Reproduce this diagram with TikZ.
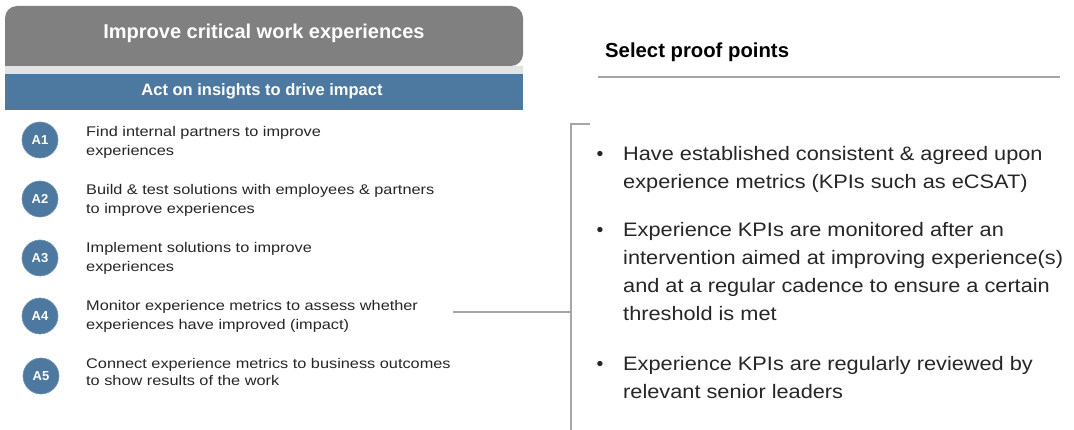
\documentclass[tikz,border=0pt]{standalone}
\usepackage{fontspec}
\setmainfont{Liberation Sans}
\newfontfamily\itemfont[FakeStretch=1.165]{Liberation Sans}
\newfontfamily\pointfont[FakeStretch=1.115]{Liberation Sans}
\definecolor{hdrgray}{HTML}{808080}
\definecolor{stripgray}{HTML}{E3E3E3}
\definecolor{steel}{HTML}{4D79A0}
\definecolor{rulegray}{HTML}{A6A6A6}
\definecolor{bodytext}{HTML}{262626}
\begin{document}
\begin{tikzpicture}[x=1pt,y=-1pt,
  badge/.style={circle,fill=steel,draw=steel!80!white,line width=0.6pt,minimum size=36pt,inner sep=0pt,
    text=white,font=\fontsize{13}{13}\selectfont\bfseries},
  itemtext/.style={anchor=north west,inner sep=0pt,align=left,text=bodytext,
    font=\itemfont\fontsize{14}{19}\selectfont},
  pointtext/.style={anchor=north west,inner sep=0pt,align=left,text=bodytext,
    font=\pointfont\fontsize{19.5}{27.9}\selectfont},
  dot/.style={anchor=base,inner sep=0pt,text=bodytext,font=\fontsize{19.5}{19.5}\selectfont},
  link/.style={draw=rulegray,line width=1.8pt}]
\useasboundingbox[fill=white] (0,0) rectangle (1074,430);

% header blocks
\fill[hdrgray,rounded corners=12pt] (5,66) -- (5,6) -- (523,6) -- (523,66) [sharp corners] -- cycle;
\fill[stripgray] (5,66) rectangle (523,74);
\fill[steel] (5,74) rectangle (523,110);
\node[text=white,font=\fontsize{20}{20}\selectfont\bfseries] (title) at (264,33) {Improve critical work experiences};
\node[text=white,font=\fontsize{16.5}{16.5}\selectfont\bfseries] (sub) at (262,91) {Act on insights to drive impact};

% action items
\node[badge] (a1) at (40,140) {A1};
\node[badge] (a2) at (40,199) {A2};
\node[badge] (a3) at (40,258) {A3};
\node[badge] (a4) at (40,316) {A4};
\node[badge] (a5) at (41,376) {A5};

\node[itemtext] (t1) at (86,122) {\rule{0pt}{14pt}Find internal partners to improve\\experiences};
\node[itemtext] (t2) at (86,180) {\rule{0pt}{14pt}Build \& test solutions with employees \& partners\\to improve experiences};
\node[itemtext] (t3) at (86,238) {\rule{0pt}{14pt}Implement solutions to improve\\experiences};
\node[itemtext] (t4) at (86,296) {\rule{0pt}{14pt}Monitor experience metrics to assess whether\\experiences have improved (impact)};
\node[itemtext,font=\itemfont\fontsize{14}{17.5}\selectfont] (t5) at (86,354) {\rule{0pt}{14pt}Connect experience metrics to business outcomes\\to show results of the work};

% proof points heading
\node[anchor=west,inner sep=0pt,font=\fontsize{20.3}{20.3}\selectfont\bfseries] (sel) at (605,52) {Select proof points};
\coordinate (ruleL) at (598,77);
\coordinate (ruleR) at (1060,77);
\draw[link] (ruleL) -- (ruleR);

% bracket linking A4 to the proof points
\coordinate (a4end) at (453,312);
\coordinate (brk) at (571,312);
\coordinate (brkTop) at (571,124);
\coordinate (brkStub) at (590,124);
\coordinate (brkBot) at (571,431);
\draw[link] (a4end) -- (brk);
\draw[link] (brkStub) -- (brkTop) -- (brkBot);

% proof points
\node[pointtext] (p1) at (623,140.7) {\rule{0pt}{20pt}Have established consistent \& agreed upon\\experience metrics (KPIs such as eCSAT)};
\node[pointtext] (p2) at (623,216.7) {\rule{0pt}{20pt}Experience KPIs are monitored after an\\intervention aimed at improving experience(s)\\and at a regular cadence to ensure a certain\\threshold is met};
\node[pointtext] (p3) at (623,350.7) {\rule{0pt}{20pt}Experience KPIs are regularly reviewed by\\relevant senior leaders};
\node[dot] (b1) at (600,160.7) {•};
\node[dot] (b2) at (600,236.7) {•};
\node[dot] (b3) at (600,370.7) {•};
\end{tikzpicture}
\end{document}
